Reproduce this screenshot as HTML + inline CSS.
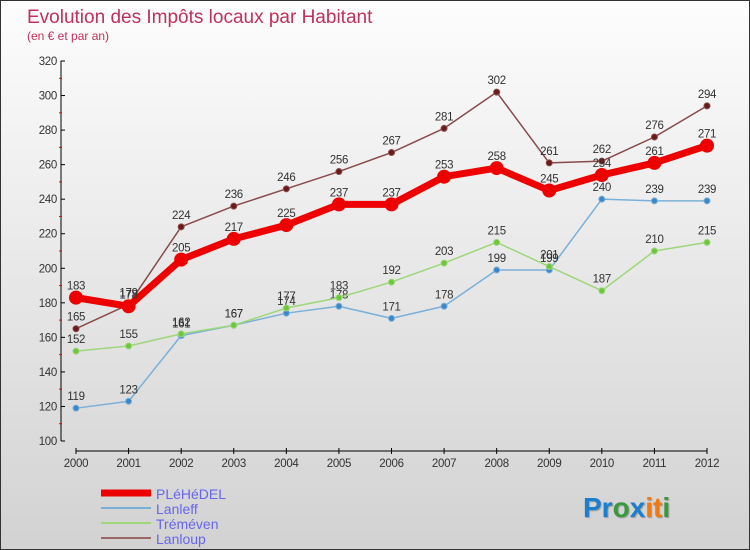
<!DOCTYPE html>
<html><head><meta charset="utf-8"><style>
body{margin:0}
#c{width:748px;height:548px;border:1px solid #333;background:linear-gradient(#fdfdfd,#d2d2d2);position:relative;font-family:"Liberation Sans",sans-serif;overflow:hidden}
svg text{font-family:"Liberation Sans",sans-serif}
</style></head><body>
<div id="c">
<svg width="748" height="548">
<text x="26" y="22" font-size="19" fill="#c0305a">Evolution des Impôts locaux par Habitant</text>
<text x="26" y="39" font-size="12" fill="#c0305a">(en € et par an)</text>
<g id="axes"></g><g id="series"></g>
<g>
<line x1="100" y1="492" x2="150" y2="492" stroke="#e00" stroke-width="7"/>
<text x="155" y="498" font-size="14" fill="#6666ee">PLéHéDEL</text>
<line x1="100" y1="507" x2="150" y2="507" stroke="#7ab0d8" stroke-width="2"/>
<text x="155" y="513" font-size="14" fill="#6666ee">Lanleff</text>
<line x1="100" y1="522" x2="150" y2="522" stroke="#9ed67a" stroke-width="2"/>
<text x="155" y="528" font-size="14" fill="#6666ee">Tréméven</text>
<line x1="100" y1="537" x2="150" y2="537" stroke="#9a6666" stroke-width="2"/>
<text x="155" y="543" font-size="14" fill="#6666ee">Lanloup</text>
</g>
<text x="582" y="516" font-size="28" font-weight="600" style="text-shadow:1px 1px 1px #999"><tspan fill="#1a7fd0">Pr</tspan><tspan fill="#3a9a3a">o</tspan><tspan fill="#1a7fd0">x</tspan><tspan fill="#f07a10">i</tspan><tspan fill="#f07a10">t</tspan><tspan fill="#3a9a3a">i</tspan></text>
</svg>
</div>
<script>
const years=["2000","2001","2002","2003","2004","2005","2006","2007","2008","2009","2010","2011","2012"];
const yTicks=[100,120,140,160,180,200,220,240,260,280,300,320];
const plehedel=[183,178,205,217,225,237,237,253,258,245,254,261,271];
const lanleff=[119,123,161,167,174,178,171,178,199,199,240,239,239];
const tremeven=[152,155,162,167,177,183,192,203,215,201,187,210,215];
const lanloup=[165,179,224,236,246,256,267,281,302,261,262,276,294];
const NS="http://www.w3.org/2000/svg";
function X(i){return 75+i*(706-75)/(years.length-1);}
function Y(v){return 440-(v-100)*380/220;}
function mk(t,a,p){const e=document.createElementNS(NS,t);for(const k in a)e.setAttribute(k,a[k]);p.appendChild(e);return e;}
const ax=document.getElementById('axes');
let l=mk('line',{x1:60,y1:Y(320),x2:60,y2:Y(100),stroke:'#000'},ax);


yTicks.forEach((v,i)=>{
 mk('line',{x1:60,y1:Y(v),x2:64,y2:Y(v),stroke:'#000'},ax);
 if(i<yTicks.length-1) mk('line',{x1:58,y1:Y(v+10),x2:61,y2:Y(v+10),stroke:'#e00'},ax);
 const t=mk('text',{x:56,y:Y(v)+4,'font-size':11.5,fill:'#333','text-anchor':'end','letter-spacing':'-0.3'},ax);t.textContent=v;
 
 
});
l=mk('line',{x1:75,y1:450,x2:706,y2:450,stroke:'#000'},ax);


years.forEach((y,i)=>{
 mk('line',{x1:X(i),y1:447,x2:X(i),y2:453,stroke:'#000'},ax);
 const t=mk('text',{x:X(i),y:466,'font-size':11.5,fill:'#333','text-anchor':'middle','letter-spacing':'-0.3'},ax);t.textContent=y;
 
 
});
const sg=document.getElementById('series');
function draw(name,data,color,w,r,mc){
 const g=mk('g',{},sg);
 
 
 mk('polyline',{points:data.map((v,i)=>X(i)+','+Y(v)).join(' '),fill:'none',stroke:color,'stroke-width':w,'stroke-linejoin':'round'},g);
 data.forEach((v,i)=>{
  const c=mk('circle',{cx:X(i),cy:Y(v),r:r,fill:mc,stroke:color},g);
  
  
  const t=mk('text',{x:X(i),y:Y(v)-8,'font-size':11.5,fill:'#333','text-anchor':'middle','letter-spacing':'-0.3'},g);t.textContent=v;
  
  
 });
}
draw('lanleff',lanleff,'#7ab0d8',1.5,3,'#3a88c8');
draw('tremeven',tremeven,'#9ed67a',1.5,3,'#6cc83a');
draw('lanloup',lanloup,'#8a4a4a',1.5,3,'#6a1a1a');
draw('plehedel',plehedel,'#ee0000',7,6.5,'#ee0000');
</script>
</body></html>
